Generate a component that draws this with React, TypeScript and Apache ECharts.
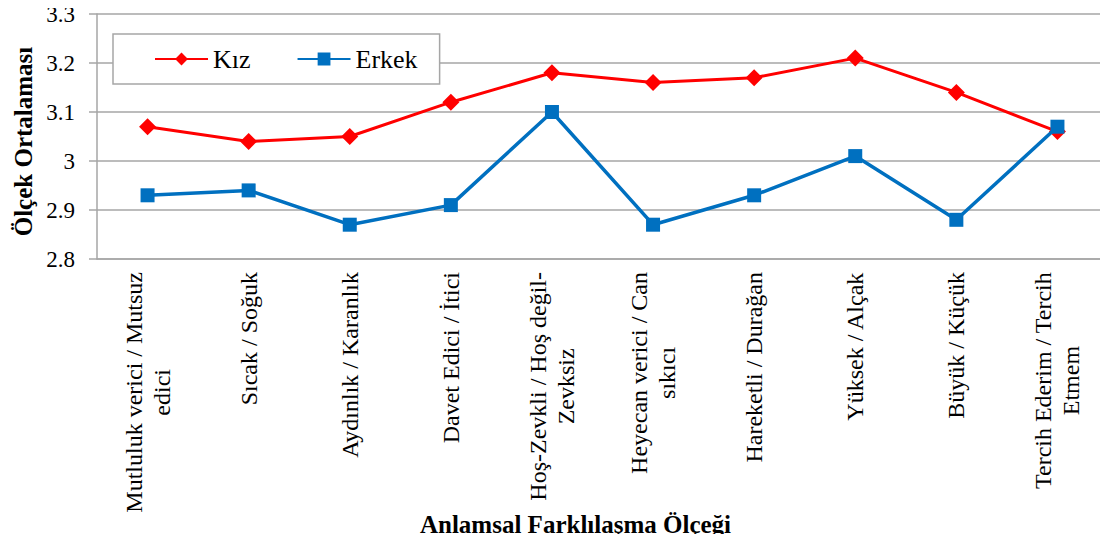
import React, { useEffect, useRef } from "react";
import * as echarts from "echarts";

const categories = [
  "Mutluluk verici / Mutsuz\nedici",
  "Sıcak / Soğuk",
  "Aydınlık / Karanlık",
  "Davet Edici / İtici",
  "Hoş-Zevkli / Hoş değil-\nZevksiz",
  "Heyecan verici / Can\nsıkıcı",
  "Hareketli / Durağan",
  "Yüksek / Alçak",
  "Büyük / Küçük",
  "Tercih Ederim / Tercih\nEtmem",
];
const kiz = [3.07, 3.04, 3.05, 3.12, 3.18, 3.16, 3.17, 3.21, 3.14, 3.06];
const erkek = [2.93, 2.94, 2.87, 2.91, 3.1, 2.87, 2.93, 3.01, 2.88, 3.07];
const yMin = 2.8;
const yMax = 3.3;
const yStep = 0.1;

const FONT = "Liberation Serif";

export default function App() {
  const ref = useRef<HTMLDivElement>(null);
  useEffect(() => {
    if (!ref.current) return;
    const chart = echarts.init(ref.current, null, { renderer: "svg" });
    chart.setOption({
      animation: false,
      backgroundColor: "#ffffff",
      textStyle: { fontFamily: FONT, color: "#000" },
      grid: { left: 97, right: -2, top: 14, bottom: 283 },
      legend: {
        left: 113,
        top: 34,
        data: ["Kız", "Erkek"],
        backgroundColor: "#ffffff",
        borderColor: "#a6a6a6",
        borderWidth: 1.5,
        borderRadius: 0,
        padding: [12, 22, 12, 41],
        itemWidth: 53,
        itemHeight: 16,
        itemGap: 46,
        textStyle: { fontFamily: FONT, fontSize: 26, color: "#000" },
      },
      xAxis: {
        type: "category",
        data: categories,
        name: "Anlamsal Farklılaşma Ölçeği",
        nameLocation: "middle",
        nameGap: 253,
        nameMoveOverlap: false,
        nameTextStyle: {
          fontFamily: FONT,
          fontWeight: "bold",
          fontSize: 25,
          color: "#000",
          padding: [0, 54, 0, 0],
        },
        axisLine: { lineStyle: { color: "#a6a6a6", width: 1.5 } },
        axisTick: { length: 6, lineStyle: { color: "#a6a6a6", width: 1.5 } },
        axisLabel: {
          rotate: 90,
          interval: 0,
          margin: 13,
          fontFamily: FONT,
          fontSize: 24,
          color: "#000",
          formatter: (v: string) =>
            v
              .split("\n")
              .map((l) => `{c|${l}}`)
              .join("\n"),
          rich: {
            c: {
              align: "center",
              fontFamily: FONT,
              fontSize: 24,
              lineHeight: 28,
              color: "#000",
            },
          },
        },
      },
      yAxis: {
        type: "value",
        min: yMin,
        max: yMax,
        interval: yStep,
        name: "Ölçek Ortalaması",
        nameLocation: "middle",
        nameGap: 61,
        nameMoveOverlap: false,
        nameTextStyle: {
          fontFamily: FONT,
          fontWeight: "bold",
          fontSize: 25,
          color: "#000",
          padding: [0, 10, 0, 0],
        },
        axisLine: { show: true, lineStyle: { color: "#a6a6a6", width: 1.5 } },
        axisTick: { show: true, length: 8, lineStyle: { color: "#a6a6a6", width: 1.5 } },
        splitLine: { lineStyle: { color: "#a6a6a6", width: 1.5 } },
        axisLabel: {
          margin: 22,
          fontFamily: FONT,
          fontSize: 23,
          color: "#000",
          formatter: (v: number) => String(Math.round(v * 10) / 10),
        },
      },
      series: [
        {
          name: "Kız",
          type: "line",
          data: kiz,
          symbol: "diamond",
          symbolSize: 17,
          color: "#ff0000",
          lineStyle: { color: "#ff0000", width: 3 },
          itemStyle: { color: "#ff0000" },
          z: 2,
        },
        {
          name: "Erkek",
          type: "line",
          data: erkek,
          symbol: "rect",
          symbolSize: 14,
          color: "#0070c0",
          lineStyle: { color: "#0070c0", width: 3.5 },
          itemStyle: { color: "#0070c0" },
          z: 3,
        },
      ],
    });
    return () => chart.dispose();
  }, []);
  return <div ref={ref} style={{ width: 1108, height: 542, margin: -8 }} />;
}
